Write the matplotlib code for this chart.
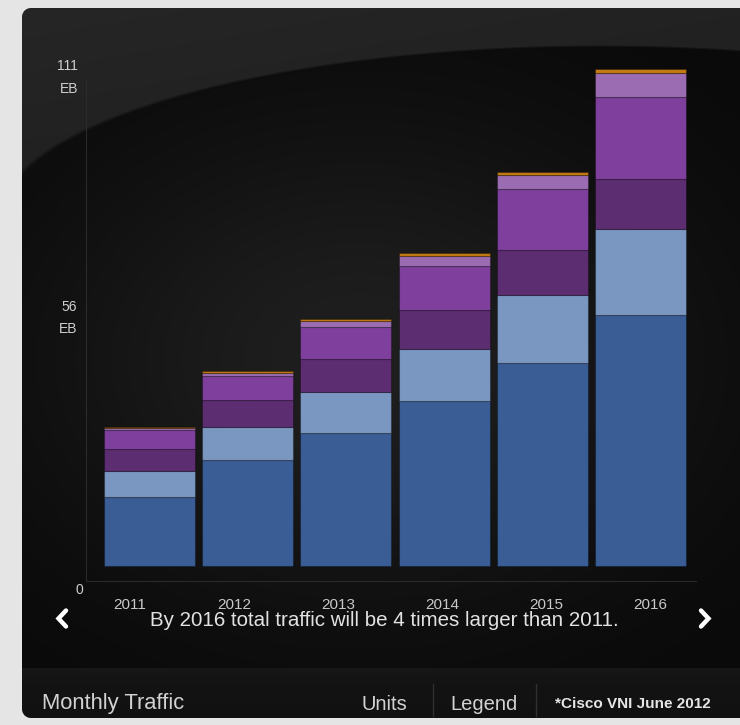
import numpy as np
import matplotlib
matplotlib.use("Agg")
import matplotlib.pyplot as plt
from matplotlib.lines import Line2D

plt.rcParams["font.family"] = ["Liberation Sans", "DejaVu Sans"]

# Monthly traffic, EB per month
years = ["2011", "2012", "2013", "2014", "2015", "2016"]
dark_blue = [15.3, 23.6, 29.6, 36.7, 45.3, 56.0]
light_blue = [6.0, 7.3, 9.3, 11.6, 15.1, 19.1]
dark_purple = [4.9, 6.2, 7.3, 8.9, 10.0, 11.3]
purple = [4.2, 5.3, 7.1, 9.6, 13.6, 18.2]
light_purple = [0.3, 0.7, 1.3, 2.4, 3.3, 5.3]
orange = [0.3, 0.4, 0.4, 0.5, 0.6, 0.9]

ytick_vals = [0, 56, 111]
ytick_text = ["0", "56\nEB", "111\nEB"]

series = [dark_blue, light_blue, dark_purple, purple, light_purple, orange]
colors = ["#3a5d96", "#7a97c2", "#5d2d72", "#7f3f9d", "#9b6cb2", "#c47a12"]

W, H = 740, 725
fig = plt.figure(figsize=(W / 100, H / 100), dpi=100)

# ---- background panel (pure styling) ----
bg = fig.add_axes([0, 0, 1, 1], zorder=0)
yy, xx = np.mgrid[0:H, 0:W] + 0.5
cx, cy, a, b = 600.0, 219.0, 600.0, 173.0
e = ((xx - cx) / a) ** 2 + ((yy - cy) / b) ** 2
inside = np.clip((1 - e) * 40 + 0.5, 0, 1)
inside[yy > cy] = 1.0
outer = 0.105 + 0.03 * np.clip(1 - yy / 260, 0, 1) + 0.015 * (1 - xx / W)
glow = 0.035 + 0.085 * np.exp(-(((xx - 360) / 230) ** 2 + ((yy - 360) / 170) ** 2) / 2)
shade = outer * (1 - inside) + glow * inside
# footer strip
foot = yy >= 668
shade[foot] = 0.07 + 0.025 * np.exp(-(yy[foot] - 668) / 10)
# rounded panel mask
x0, y0, x1, y1, r = 22, 8, W + 20, 718, 9
dx = np.maximum(np.maximum(x0 + r - xx, xx - (x1 - r)), 0)
dy = np.maximum(np.maximum(y0 + r - yy, yy - (y1 - r)), 0)
dist = np.sqrt(dx ** 2 + dy ** 2) - r
m = np.clip(0.5 - dist, 0, 1)
m[(xx < x0) | (yy < y0) | (yy > y1)] = 0
img = shade * m + 0.9 * (1 - m)
bg.imshow(np.dstack([img] * 3), extent=(0, W, H, 0), aspect="auto", interpolation="bilinear")
bg.set_xlim(0, W)
bg.set_ylim(H, 0)
bg.axis("off")

# ---- chart ----
ax = fig.add_axes([86 / W, 144 / H, 610 / W, 519 / H], zorder=1)
ax.set_facecolor("none")
x = np.arange(len(years))
bottom = np.zeros(len(years))
for vals, c in zip(series, colors):
    ax.bar(x, vals, width=0.927, bottom=bottom, color=c,
           edgecolor=(0, 0, 0, 0.28), linewidth=0.8)
    bottom += np.array(vals)

ax.set_xlim(-0.647, 5.565)
ax.set_ylim(-3.33, 112.4)
for s in ["top", "right"]:
    ax.spines[s].set_visible(False)
ax.spines["left"].set_color("#2a2a2a")
ax.spines["bottom"].set_color("#2a2a2a")
ax.spines["left"].set_bounds(-3.33, 108.7)

ax.set_xticks(x * 1.059 - 0.2)
ax.set_xticklabels(years, fontsize=11, color="#c8c8c8")
ax.tick_params(axis="x", length=0, pad=12)
ax.set_yticks([])

y_offsets = [(-3, -17), (-9, 15), (-8, 9)]
for v, t, (ox, oy) in zip(ytick_vals, ytick_text, y_offsets):
    ax.annotate(t, xy=(0, v), xycoords=("axes fraction", "data"),
                xytext=(ox, oy), textcoords="offset pixels", ha="right", va="top",
                fontsize=10, color="#cfcfcf", linespacing=1.75)

# ---- caption, arrows, footer ----
fig.text(384 / W, 1 - 620 / H, "By 2016 total traffic will be 4 times larger than 2011.",
         ha="center", va="center", fontsize=14.8, color="#e2e2e2")

ov = fig.add_axes([0, 0, 1, 1], zorder=2)
ov.set_xlim(0, W)
ov.set_ylim(H, 0)
ov.axis("off")
ov.add_line(Line2D([66, 58.5, 66], [610.5, 618.5, 626.5], color="white", lw=3.2,
                   solid_capstyle="round", solid_joinstyle="miter"))
ov.add_line(Line2D([701, 708.5, 701], [610.5, 618.5, 626.5], color="white", lw=3.2,
                   solid_capstyle="round", solid_joinstyle="miter"))
for sx in [433, 536]:
    ov.add_line(Line2D([sx, sx], [684, 716], color="#303030", lw=1))

ov.text(42, 704, "Monthly Traffic", ha="left", va="center", fontsize=15.8, color="#d2d2d2")
ov.text(384, 704, "Units", ha="center", va="center", fontsize=14.5, color="#d2d2d2")
ov.text(484, 704, "Legend", ha="center", va="center", fontsize=14.5, color="#d2d2d2")
ov.text(633, 704, "*Cisco VNI June 2012", ha="center", va="center", fontsize=11,
        color="#e6e6e6", fontweight="bold")

fig.savefig("out.png", dpi=100)
